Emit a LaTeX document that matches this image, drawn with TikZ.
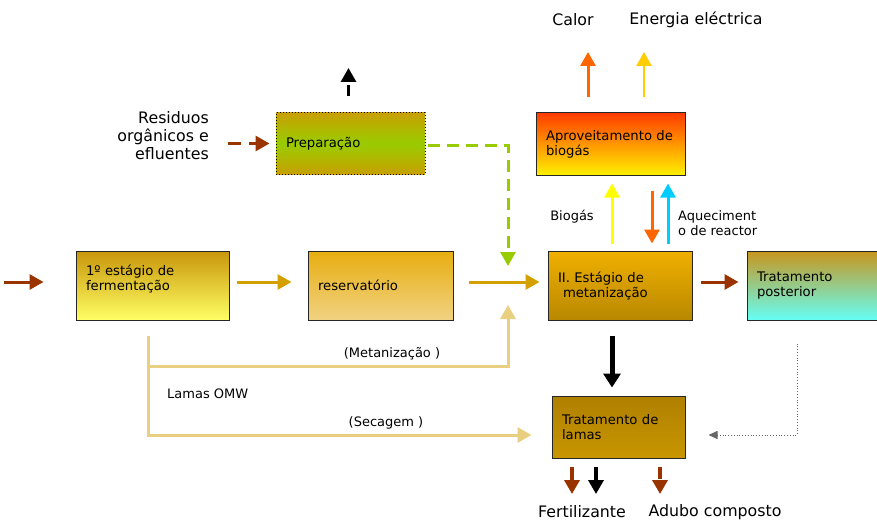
\documentclass[tikz,border=0pt]{standalone}
\usepackage{fontspec}
\setmainfont{DejaVu Sans}
\usetikzlibrary{arrows.meta}
\definecolor{residue}{RGB}{153,51,0}
\definecolor{grain}{RGB}{212,160,0}
\definecolor{sludge}{RGB}{232,208,128}
\definecolor{fresh}{RGB}{153,204,0}
\definecolor{heat}{RGB}{255,102,0}
\definecolor{power}{RGB}{255,204,0}
\definecolor{gas}{RGB}{255,255,0}
\definecolor{warm}{RGB}{0,204,255}
\tikzstyle{box}=[draw=black!85, line width=1pt, inner sep=0pt, align=left, font=\fontsize{13.2}{15}\selectfont]
\tikzstyle{label}=[inner sep=1pt, font=\fontsize{15.8}{18}\selectfont]
\tikzstyle{small}=[inner sep=1pt, font=\fontsize{13}{15}\selectfont]
\tikzstyle{flow}=[line width=3pt, -{Triangle[length=14pt,width=15pt]}]
\begin{document}
\begin{tikzpicture}[x=1pt,y=-1pt]
  \useasboundingbox (0,0) rectangle (877,524);
  %% Boxes
  \draw (350.5,143.5) node[box, draw=black, dotted, minimum width=149pt, minimum height=61pt, text width=129pt,
    top color={rgb,255:red,200;green,160;blue,0}, bottom color={rgb,255:red,200;green,160;blue,0}, middle color=fresh] (prep) {Preparação};
  \draw (610.5,144) node[box, minimum width=149pt, minimum height=62pt, text width=129pt,
    top color={rgb,255:red,255;green,60;blue,0}, bottom color={rgb,255:red,255;green,240;blue,0}] (aprov) {Aproveitamento de\\biogás};
  \draw (152.5,285.5) node[box, minimum width=153pt, minimum height=69pt, text width=133pt,
    top color={rgb,255:red,200;green,150;blue,10}, bottom color={rgb,255:red,255;green,255;blue,100}] (ferm) {1º estágio de\\fermentação\\\mbox{}};
  \draw (380.5,285.5) node[box, minimum width=145pt, minimum height=69pt, text width=125pt,
    top color={rgb,255:red,232;green,174;blue,16}, bottom color={rgb,255:red,240;green,210;blue,130}] (res) {reservatório};
  \draw (620,285.5) node[box, minimum width=144pt, minimum height=69pt, text width=124pt,
    top color={rgb,255:red,240;green,176;blue,0}, bottom color={rgb,255:red,184;green,136;blue,0}] (meta) {II. Estágio de\\\hspace*{5pt}metanização};
  \draw (818.5,285.5) node[box, minimum width=143pt, minimum height=69pt, text width=123pt,
    top color={rgb,255:red,200;green,150;blue,30}, bottom color={rgb,255:red,100;green,255;blue,245}] (post) {Tratamento\\posterior};
  \draw (618.5,427) node[box, minimum width=133pt, minimum height=62pt, text width=113pt,
    top color={rgb,255:red,176;green,128;blue,0}, bottom color={rgb,255:red,200;green,150;blue,0}] (lamas) {Tratamento de\\lamas};

  %% Labels
  \draw (573,20) node[label] (calor) {Calor};
  \draw (696,20) node[label] (energia) {Energia eléctrica};
  \draw (210,136) node[label, anchor=east, align=right] (residuos) {Residuos\\orgânicos e\\efluentes};
  \draw (572,217) node[small] (biogas) {Biogás};
  \draw (677,223.5) node[small, anchor=west, align=left] (aquec) {Aqueciment\\o de reactor};
  \draw (392,354) node[small] (metlab) {(Metanização )};
  \draw (166,394) node[small, anchor=west] (omw) {Lamas OMW};
  \draw (386,423) node[small] (seclab) {(Secagem )};
  \draw (582,512) node[label] (fert) {Fertilizante};
  \draw (715,512) node[label] (adubo) {Adubo composto};

  %% Free ends
  \coordinate (feed) at (4,282);
  \coordinate (mix) at (508,282);
  \coordinate (split) at (148.5,366);
  \coordinate (vent) at (348.5,68);
  \coordinate (heatout) at (588,52);
  \coordinate (powerout) at (644,52);
  \coordinate (fertA) at (572,494);
  \coordinate (fertB) at (596,494);
  \coordinate (compost) at (660,494);

  %% Main line
  \draw[flow, color=residue, shorten >=32pt] (feed) -- (feed -| ferm.west);
  \draw[flow, color=grain, shorten <=7pt, shorten >=16pt] ([yshift=3.5pt]ferm.east) -- ([yshift=3.5pt]res.west);
  \draw[flow, color=grain, shorten <=15pt, shorten >=8pt] ([yshift=3.5pt]res.east) -- ([yshift=3.5pt]meta.west);
  \draw[flow, color=residue, shorten <=8pt, shorten >=8pt] ([yshift=3.5pt]meta.east) -- ([yshift=3.5pt]post.west);
  \draw[flow, line width=5pt, -{Triangle[length=14pt,width=17pt]}, color=black, shorten <=15pt, shorten >=8pt]
    ([xshift=-8pt]meta.south) -- ([xshift=-6.5pt]lamas.north);

  %% Preparation
  \draw[flow, color=residue, dash pattern=on 13pt off 8pt, shorten <=18pt, shorten >=6pt] (residuos.east |- prep.west) -- (prep.west);
  \draw[flow, color=black, dash pattern=on 11pt off 4pt, shorten <=16pt] ([xshift=-2pt]prep.north) -- (vent);
  \draw[flow, color=fresh, dash pattern=on 12pt off 7pt, shorten <=2pt] ([yshift=-1.5pt]prep.east) -| ([yshift=16pt]mix);

  %% Biogas
  \draw[flow, color=heat, shorten <=15pt] ([xshift=-22.5pt]aprov.north) -- (heatout);
  \draw[flow, color=power, line width=2.5pt, shorten <=15pt] ([xshift=33.5pt]aprov.north) -- (powerout);
  \draw[flow, color=gas, shorten <=7pt, shorten >=8pt] ([xshift=-8pt]meta.north) -- ([xshift=1.5pt]aprov.south);
  \draw[flow, color=heat, shorten <=15pt, shorten >=7pt] ([xshift=41.5pt]aprov.south) -- ([xshift=32pt]meta.north);
  \draw[flow, color=warm, shorten <=7pt, shorten >=8pt] ([xshift=48pt]meta.north) -- ([xshift=57.5pt]aprov.south);

  %% Sludge
  \draw[flow, color=sludge, shorten <=15pt, shorten >=20pt] ([xshift=-4pt]ferm.south) |- ([yshift=-8pt]lamas.west);
  \draw[flow, color=sludge] (split) -| ([yshift=-23pt]mix);
  \draw[line width=0.8pt, dotted, color=black!60, -{Triangle[length=9pt,width=8pt]}, shorten <=23pt, shorten >=23pt]
    ([xshift=-21.5pt]post.south) |- ([yshift=-8pt]lamas.east);

  %% Products
  \draw[flow, line width=4pt, color=residue, -{Triangle[length=14pt,width=15pt]}, shorten <=8pt] ([xshift=-46.5pt]lamas.south) -- (fertA);
  \draw[flow, line width=4pt, color=black, -{Triangle[length=14pt,width=15pt]}, shorten <=8pt] ([xshift=-22.5pt]lamas.south) -- (fertB);
  \draw[flow, line width=4pt, color=residue, dash pattern=on 12pt off 6pt, -{Triangle[length=14pt,width=15pt]}, shorten <=8pt] ([xshift=41.5pt]lamas.south) -- (compost);
\end{tikzpicture}
\end{document}
